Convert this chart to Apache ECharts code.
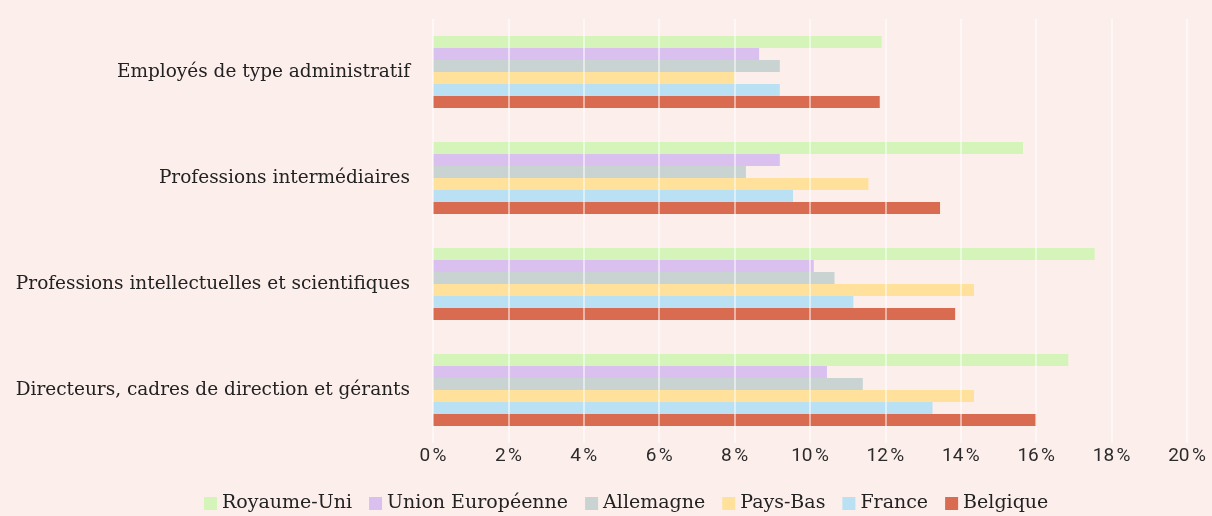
<!DOCTYPE html>
<html>
<head>
<meta charset="utf-8">
<script src="https://cdn.jsdelivr.net/npm/echarts@6/dist/echarts.min.js"></script>
<style>
  html, body { margin: 0; padding: 0; background: #fcefeb; }
  #chart { width: 1212px; height: 516px; }
</style>
</head>
<body>
<div id="chart"></div>
<script>
const categories = [
  "Directeurs, cadres de direction et gérants",
  "Professions intellectuelles et scientifiques",
  "Professions intermédiaires",
  "Employés de type administratif",
];

// values per category, same order as categories (bottom to top)
const belgique = [16.0, 13.85, 13.45, 11.85];
const france = [13.25, 11.15, 9.55, 9.2];
const paysBas = [14.35, 14.35, 11.55, 8.0];
const allemagne = [11.4, 10.65, 8.3, 9.2];
const unionEuropeenne = [10.45, 10.1, 9.2, 8.65];
const royaumeUni = [16.85, 17.55, 15.65, 11.9];

const legendOrder = ["Royaume-Uni", "Union Européenne", "Allemagne", "Pays-Bas", "France", "Belgique"];

const SERIF = "'DejaVu Serif', serif";
const SANS = "'Liberation Sans Narrow', 'Roboto', sans-serif";

const bar = (name, data, color) => ({
  name,
  type: "bar",
  data,
  barWidth: 12,
  barGap: "0%",
  itemStyle: { color },
  emphasis: { disabled: true },
});

const chart = echarts.init(document.getElementById("chart"));
chart.setOption({
  animation: false,
  backgroundColor: "#fcefeb",
  grid: { left: 433, right: 25, top: 19, bottom: 73, containLabel: false },
  xAxis: {
    type: "value",
    min: 0,
    max: 20,
    interval: 2,
    z: 5,
    axisLine: { show: false },
    axisTick: { show: false },
    axisLabel: {
      color: "#2b2b2b",
      fontFamily: SANS,
      fontSize: 19,
      margin: 4,
      formatter: (v) => v + "\u202f%",
    },
    splitLine: { lineStyle: { color: "rgba(255,255,255,0.5)", width: 2 } },
  },
  yAxis: {
    type: "category",
    data: categories,
    axisLine: { show: false },
    axisTick: { show: false },
    axisLabel: { color: "#222", fontFamily: SERIF, fontSize: 18.5, margin: 23 },
  },
  legend: {
    data: legendOrder,
    bottom: -2,
    left: 199,
    itemWidth: 13,
    itemHeight: 13,
    itemGap: 17,
    icon: "rect",
    textStyle: { color: "#222", fontFamily: SERIF, fontSize: 19, padding: [0, 0, 0, 0] },
  },
  series: [
    bar("Royaume-Uni", royaumeUni, "#d4f4b9"),
    bar("Union Européenne", unionEuropeenne, "#dac0ef"),
    bar("Allemagne", allemagne, "#c9d3d2"),
    bar("Pays-Bas", paysBas, "#ffe19c"),
    bar("France", france, "#bae1f3"),
    bar("Belgique", belgique, "#d86b50"),
  ],
});
</script>
</body>
</html>
